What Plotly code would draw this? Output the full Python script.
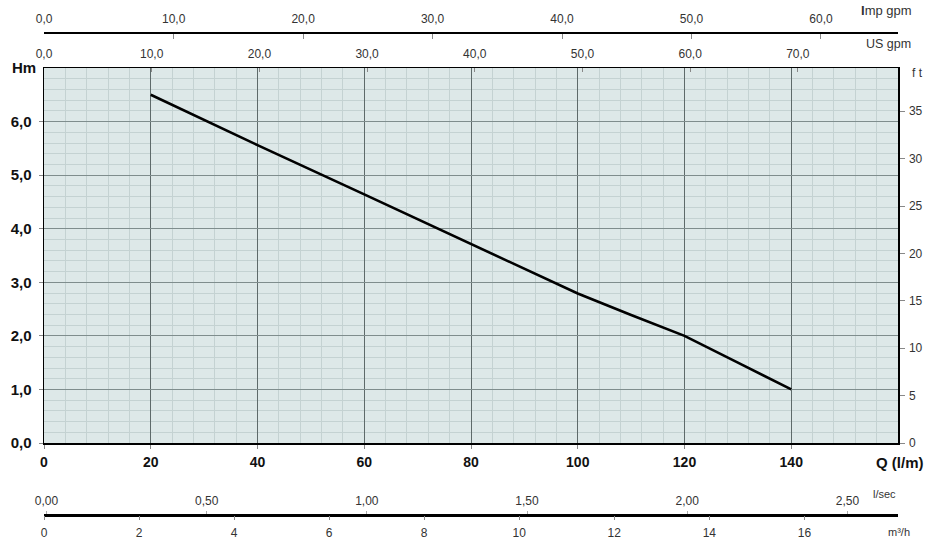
import plotly.graph_objects as go

# ---- data ----
flow_lpm = [20, 40, 60, 80, 100, 110, 120, 130, 140]
head_m = [6.5, 5.56, 4.64, 3.71, 2.79, 2.39, 2.0, 1.5, 1.0]

x_ticks = [0, 20, 40, 60, 80, 100, 120, 140]
x_labels = ["0", "20", "40", "60", "80", "100", "120", "140"]
y_ticks = [0, 1, 2, 3, 4, 5, 6]
y_labels = ["0,0", "1,0", "2,0", "3,0", "4,0", "5,0", "6,0"]
ft_ticks = [0, 5, 10, 15, 20, 25, 30, 35]
ft_labels = ["0", "5", "10", "15", "20", "25", "30", "35"]
usgpm_ticks = [0, 10, 20, 30, 40, 50, 60, 70]
usgpm_labels = ["0,0", "10,0", "20,0", "30,0", "40,0", "50,0", "60,0", "70,0"]
impgpm_ticks = [0, 10, 20, 30, 40, 50, 60]
impgpm_labels = ["0,0", "10,0", "20,0", "30,0", "40,0", "50,0", "60,0"]
lsec_ticks = [0, 0.5, 1.0, 1.5, 2.0, 2.5]
lsec_labels = ["0,00", "0,50", "1,00", "1,50", "2,00", "2,50"]
m3h_ticks = [0, 2, 4, 6, 8, 10, 12, 14, 16, 18]
m3h_labels = ["0", "2", "4", "6", "8", "10", "12", "14", "16", ""]

# axis extents (scale ranges)
x_range = [0, 160]
y_range = [0, 7]
ft_range = [0, 39.56]
usgpm_range = [0, 79.3]
impgpm_range = [-0.015, 65.95]
lsec_range = [-0.0078, 2.658]
m3h_range = [0, 17.97]

W, H = 932, 548
FONT = "Liberation Sans, Arial, sans-serif"

def py(px):
    return 1 - px / H

fig = go.Figure()
fig.add_trace(go.Scatter(x=flow_lpm, y=head_m, mode="lines",
                         line=dict(color="black", width=2.6),
                         xaxis="x", yaxis="y", hoverinfo="skip", showlegend=False))
# invisible helper traces so every auxiliary axis is drawn
for xa, rng in [("x2", usgpm_range), ("x3", impgpm_range), ("x4", lsec_range), ("x5", m3h_range)]:
    fig.add_trace(go.Scatter(x=rng, y=[0, 0], mode="markers", marker=dict(opacity=0),
                             xaxis=xa, yaxis="y", hoverinfo="skip", showlegend=False))
fig.add_trace(go.Scatter(x=[0, 160], y=ft_range, mode="markers", marker=dict(opacity=0),
                         xaxis="x", yaxis="y2", hoverinfo="skip", showlegend=False))

dom_y = [py(443), py(68)]
small = dict(family=FONT, size=12, color="#333333")
bold_x = dict(family=FONT, size=14, color="#111111", weight="bold")
bold_y = dict(family=FONT, size=15, color="#111111", weight="bold")
common = dict(automargin=False, fixedrange=True, zeroline=False)

fig.update_layout(
    template="none",
    width=W, height=H,
    margin=dict(l=44, r=34, t=0, b=0, pad=0, autoexpand=False),
    paper_bgcolor="white",
    plot_bgcolor="#dde8e8",
    font=dict(family=FONT),
    showlegend=False,
    xaxis=dict(range=x_range, domain=[0, 1], anchor="y",
               tickvals=x_ticks, ticktext=x_labels, tickfont=bold_x,
               ticks="outside", ticklen=4, tickcolor="#888888",
               showline=True, linecolor="black", linewidth=1.5,
               showgrid=True, gridcolor="#5e6a6a", gridwidth=1,
               minor=dict(dtick=4, showgrid=True, gridcolor="#c4d2d2", gridwidth=1, ticks=""),
               ticklabelstandoff=2, **common),
    yaxis=dict(range=y_range, domain=dom_y, anchor="x",
               tickvals=y_ticks, ticktext=y_labels, tickfont=bold_y,
               ticks="outside", ticklen=4, tickcolor="#888888",
               showline=True, linecolor="black", linewidth=1.5,
               showgrid=True, gridcolor="#7f8d8d", gridwidth=1,
               minor=dict(dtick=0.2, showgrid=True, gridcolor="#c4d2d2", gridwidth=1, ticks=""),
               ticklabelstandoff=4, **common),
    yaxis2=dict(range=ft_range, overlaying="y", side="right", anchor="x",
                tickvals=ft_ticks, ticktext=ft_labels, tickfont=small,
                ticks="outside", ticklen=5, tickcolor="#888888",
                showline=True, linecolor="black", linewidth=1.5,
                showgrid=False, ticklabelstandoff=2, **common),
    xaxis2=dict(range=usgpm_range, overlaying="x", side="top", anchor="y",
                tickvals=usgpm_ticks, ticktext=usgpm_labels, tickfont=small,
                ticks="inside", ticklen=4, tickcolor="#888888",
                showline=True, linecolor="black", linewidth=1.5,
                showgrid=False, ticklabelstandoff=4, **common),
    xaxis3=dict(range=impgpm_range, overlaying="x", side="top", anchor="free", position=py(32),
                tickvals=impgpm_ticks, ticktext=impgpm_labels, tickfont=small,
                ticks="inside", ticklen=5, tickcolor="#888888",
                showline=True, linecolor="black", linewidth=1.5,
                showgrid=False, ticklabelstandoff=4, **common),
    xaxis4=dict(range=lsec_range, overlaying="x", side="top", anchor="free", position=py(515),
                tickvals=lsec_ticks, ticktext=lsec_labels, tickfont=small,
                ticks="outside", ticklen=3, tickcolor="#aaaaaa",
                showline=True, linecolor="black", linewidth=2.5,
                showgrid=False, ticklabelstandoff=1, **common),
    xaxis5=dict(range=m3h_range, overlaying="x", side="bottom", anchor="free", position=py(515),
                tickvals=m3h_ticks, ticktext=m3h_labels, tickfont=small,
                ticks="outside", ticklen=4, tickcolor="#888888",
                showline=False, showgrid=False,
                ticklabelstandoff=3, **common),
    annotations=[
        dict(text="<b>Hm</b>", x=0, y=py(68), xref="paper", yref="paper",
             xanchor="right", yanchor="middle", xshift=-6, showarrow=False,
             font=dict(family=FONT, size=15, color="#111111")),
        dict(text="<b>Q (l/m)</b>", x=1, y=py(462), xref="paper", yref="paper",
             xanchor="right", yanchor="middle", xshift=28, showarrow=False,
             font=dict(family=FONT, size=15, color="#111111")),
        dict(text="f t", x=1, y=py(73), xref="paper", yref="paper",
             xanchor="left", yanchor="middle", xshift=12, showarrow=False,
             font=small),
        dict(text="<b>I</b>mp gpm", x=1, y=py(10), xref="paper", yref="paper",
             xanchor="right", yanchor="middle", xshift=16, showarrow=False,
             font=dict(family=FONT, size=13, color="#333333")),
        dict(text="US gpm", x=1, y=py(44), xref="paper", yref="paper",
             xanchor="right", yanchor="middle", xshift=15, showarrow=False,
             font=dict(family=FONT, size=12.5, color="#333333")),
        dict(text="l/sec", x=1, y=py(494), xref="paper", yref="paper",
             xanchor="right", yanchor="middle", xshift=0, showarrow=False,
             font=dict(family=FONT, size=11, color="#333333")),
        dict(text="m³/h", x=1, y=py(532), xref="paper", yref="paper",
             xanchor="right", yanchor="middle", xshift=14, showarrow=False,
             font=dict(family=FONT, size=11, color="#333333")),
    ],
)

fig.write_html("out.html", config={"displayModeBar": False, "staticPlot": True},
               post_script="document.body.style.margin='0px';document.body.style.overflow='hidden';")
